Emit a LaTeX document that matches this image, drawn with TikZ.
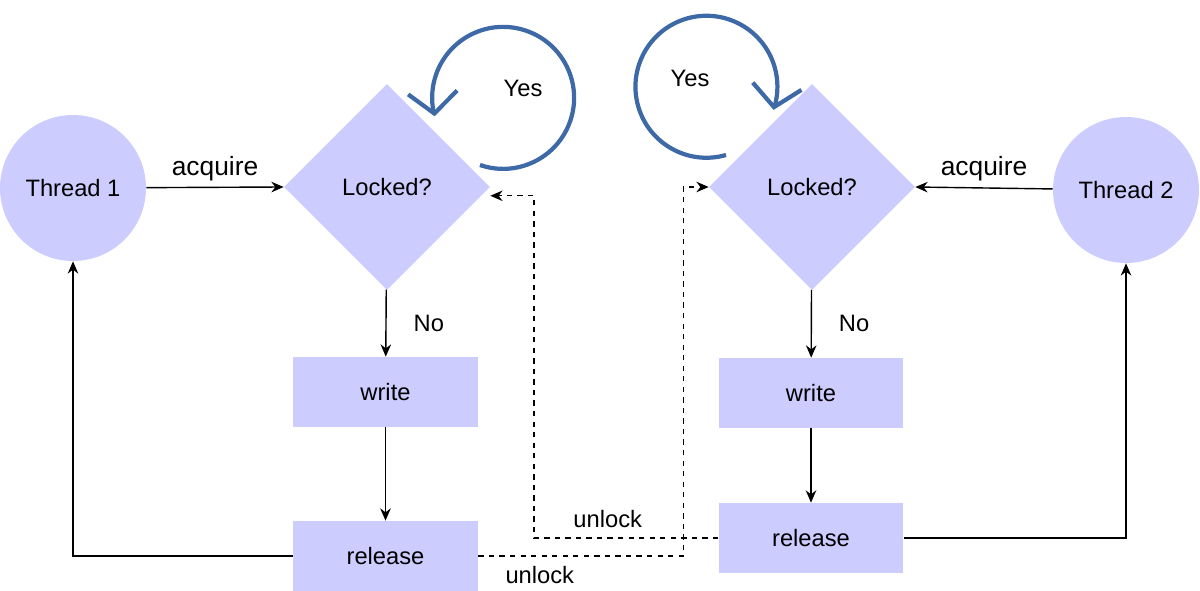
\documentclass[tikz,border=0pt]{standalone}
\usepackage{fontspec}
\setmainfont{Liberation Sans}
\usetikzlibrary{shapes.geometric,arrows.meta,bending}
\definecolor{lockfill}{HTML}{CCCCFF}
\definecolor{loopblue}{HTML}{3D69A6}
\tikzset{
  thread/.style={circle, fill=lockfill, minimum size=2.92cm, inner sep=0pt},
  check/.style={diamond, fill=lockfill, minimum size=4.12cm, inner sep=0pt},
  action/.style={rectangle, fill=lockfill, minimum width=3.7cm, minimum height=1.4cm},
  flow/.style={thick, -{Stealth[length=7pt,width=6pt]}},
  signal/.style={flow, dashed},
  spin/.style={loopblue, line width=2.4pt, -{Straight Barb[flex'=1,length=12pt,width=28pt,line width=2.4pt]}}
}
\begin{document}
\begin{tikzpicture}[x=0.02cm, y=0.02cm, font=\fontsize{13.5}{16}\selectfont]

\useasboundingbox (0,0) rectangle (1200,591);

\node[thread] (t1) at (73,403) {Thread 1};
\node[thread] (t2) at (1126,401) {Thread 2};
\node[check] (d1) at (387,404) {Locked?};
\node[check] (d2) at (812,404) {Locked?};
\node[action] (w1) at (385.5,199) {write};
\node[action] (w2) at (811,198) {write};
\node[action] (r1) at (385.5,35) {release};
\node[action] (r2) at (811,53) {release};

\begin{scope}[flow]
\draw (t1) -- (d1.west) node[midway, above=0pt, font=\fontsize{15}{17}\selectfont] {acquire}; %t1-d1
\draw (t2) -- (d2.east) node[midway, above=0pt, font=\fontsize{15}{17}\selectfont] {acquire}; %t2-d2
\draw (d1) -- (w1) node[midway, right=12pt] {No}; %d1-w1
\draw (d2) -- (w2) node[midway, right=12pt] {No}; %d2-w2
\draw (w1) -- (r1); %w1-r1
\draw (w2) -- (r2); %w2-r2
\draw (r1.west) -| (t1.south); %r1-t1
\draw (r2.east) -| (t2.south); %r2-t2
\end{scope}

\begin{scope}[signal]
\draw (r1.east) -- ++(205,0) node[pos=0.3, below=2pt] {unlock} |- (d2.west); %r1-d2
\draw (r2.west) -- ++(-184,0) node[pos=0.6, above=2pt] {unlock} |- ([yshift=-5]d1.east); %r2-d1
\end{scope}

\draw[spin] (480,426) arc[start angle=-109, end angle=195, radius=1.42cm];
\draw[spin] (726,436) arc[start angle=-74, end angle=-379, radius=1.42cm];
\node (y1) at (523,503) {Yes};
\node (y2) at (690,513) {Yes};

\end{tikzpicture}
\end{document}
